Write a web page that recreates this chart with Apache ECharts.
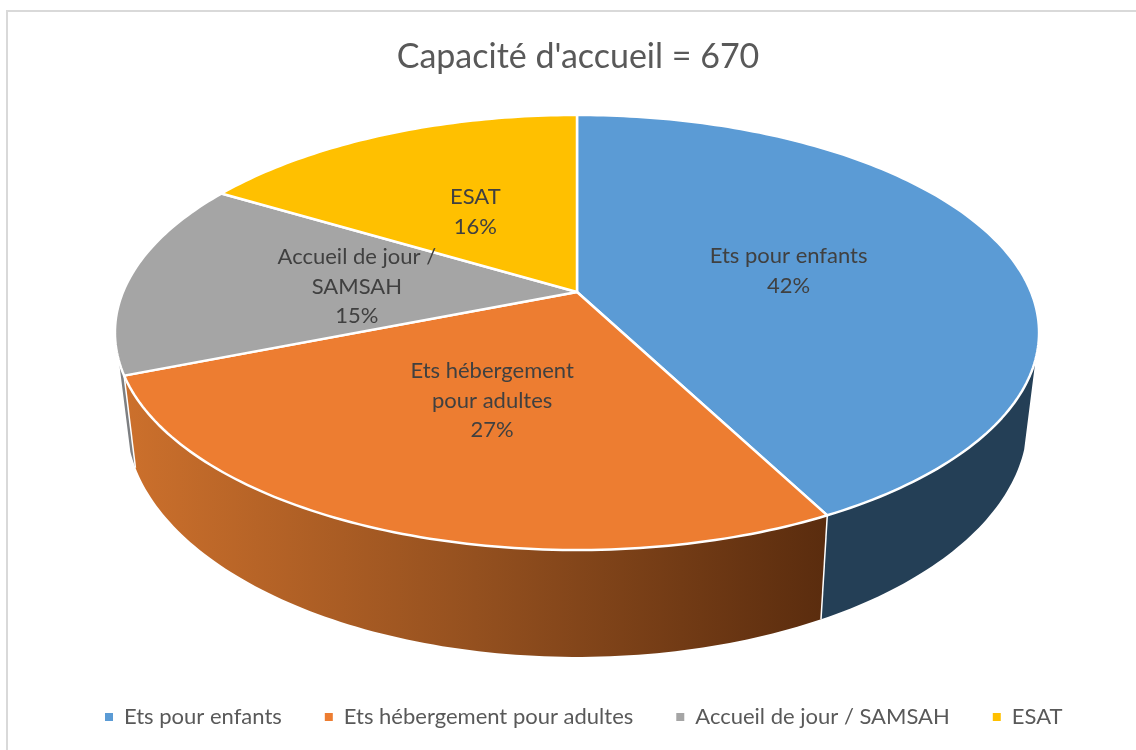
<!DOCTYPE html>
<html>
<head>
<meta charset="utf-8">
<style>
html, body { margin: 0; padding: 0; background: #fff; }
#main { width: 1136px; height: 750px; }
</style>
<script src="https://cdn.jsdelivr.net/npm/echarts@6/dist/echarts.min.js"></script>
</head>
<body>
<div id="main"></div>
<script>
var titleText = "Capacité d'accueil = 670";
var categories = ['Ets pour enfants', 'Ets hébergement pour adultes', 'Accueil de jour / SAMSAH', 'ESAT'];
var labelLines = ['Ets pour enfants', 'Ets hébergement\npour adultes', 'Accueil de jour /\nSAMSAH', 'ESAT'];
var capacity = [284, 178, 98, 110];
var topColors = ['#5b9bd5', '#ed7d31', '#a5a5a5', '#ffc000'];

var total = capacity.reduce(function (a, b) { return a + b; }, 0);
var font = 'Lato';

// echarts has no 3d pie without gl, so the disc is projected here from the values
var k = 0.186;
var topFace = { cx: 577, cy: 292, a: 454, b: 210 };
var bottomFace = { cx: 577, cy: 377, a: 454 * 0.975, b: 210 * 1.085 };
var wallFrom = 107.5, wallTo = 252;
var labelR = 0.49;
var labelDy = 3;

function project(face, deg, r) {
  var t = deg * Math.PI / 180;
  var X = r * Math.sin(t), Y = r * Math.cos(t);
  var w = 1 + k * Y;
  return [face.cx + face.a * X / w, face.cy - face.b * Y / w];
}

function arc(face, from, to) {
  var pts = [];
  var n = Math.max(2, Math.ceil(Math.abs(to - from)));
  for (var i = 0; i <= n; i++) {
    pts.push(project(face, from + (to - from) * i / n, 1));
  }
  return pts;
}

function wallFill(index) {
  if (index === 1) {
    return {
      type: 'linear', x: 0, y: 0, x2: 1, y2: 0,
      colorStops: [
        { offset: 0, color: '#cc702c' },
        { offset: 0.5, color: '#94501f' },
        { offset: 1, color: '#5a2c0e' }
      ]
    };
  }
  return ['#243f56', '', '#7d7f82', '#8a6a00'][index];
}

function renderSlice(index) {
  return function (params, api) {
    var start = api.value(0) / total * 360;
    var end = api.value(1) / total * 360;
    var children = [];
    var from = Math.max(start, wallFrom), to = Math.min(end, wallTo);
    if (to > from) {
      var wall = arc(topFace, from, to).concat(arc(bottomFace, from, to).reverse());
      children.push({
        type: 'polygon', z2: 1,
        shape: { points: wall },
        style: { fill: wallFill(index), stroke: '#fff', lineWidth: 0 }
      });
      // white seams where two walls meet
      if (end < wallTo) {
        children.push({
          type: 'line', z2: 2,
          shape: {
            x1: project(topFace, end, 1)[0], y1: project(topFace, end, 1)[1],
            x2: project(bottomFace, end, 1)[0], y2: project(bottomFace, end, 1)[1]
          },
          style: { stroke: '#fff', lineWidth: 1.5 }
        });
      }
    }
    children.push({
      type: 'polygon', z2: 3,
      shape: { points: [[topFace.cx, topFace.cy]].concat(arc(topFace, start, end)) },
      style: { fill: topColors[index], stroke: '#fff', lineWidth: 2.5, lineJoin: 'round' }
    });
    var mid = project(topFace, (start + end) / 2, labelR);
    children.push({
      type: 'text', z2: 5,
      x: mid[0], y: mid[1] + labelDy,
      style: {
        text: labelLines[index] + '\n' + Math.round(api.value(2) / total * 100) + '%',
        fill: '#404040', font: '22px ' + font, lineHeight: 29.5,
        align: 'center', verticalAlign: 'middle'
      }
    });
    return { type: 'group', children: children };
  };
}

var running = 0;
var series = categories.map(function (name, i) {
  var start = running;
  running += capacity[i];
  return {
    name: name,
    type: 'custom',
    coordinateSystem: 'none',
    renderItem: renderSlice(i),
    itemStyle: { color: topColors[i] },
    data: [[start, running, capacity[i]]],
    silent: true,
    animation: false
  };
});

var myChart = echarts.init(document.getElementById('main'));
myChart.setOption({
  animation: false,
  title: {
    text: titleText,
    left: 573, top: 35, textAlign: 'center',
    textStyle: { color: '#595959', fontSize: 34, fontWeight: 'normal', fontFamily: font }
  },
  legend: {
    left: 105, top: 706, padding: 0,
    icon: 'rect',
    itemWidth: 8, itemHeight: 8, itemGap: 43,
    textStyle: { color: '#595959', fontSize: 22, fontFamily: font, padding: [0, 0, 0, 6] },
    data: categories
  },
  graphic: [
    { type: 'line', shape: { x1: 6, y1: 11, x2: 1136, y2: 11 }, style: { stroke: '#d9d9d9', lineWidth: 2 } },
    { type: 'line', shape: { x1: 7, y1: 11, x2: 7, y2: 750 }, style: { stroke: '#d9d9d9', lineWidth: 2 } }
  ],
  series: series
});
</script>
</body>
</html>
